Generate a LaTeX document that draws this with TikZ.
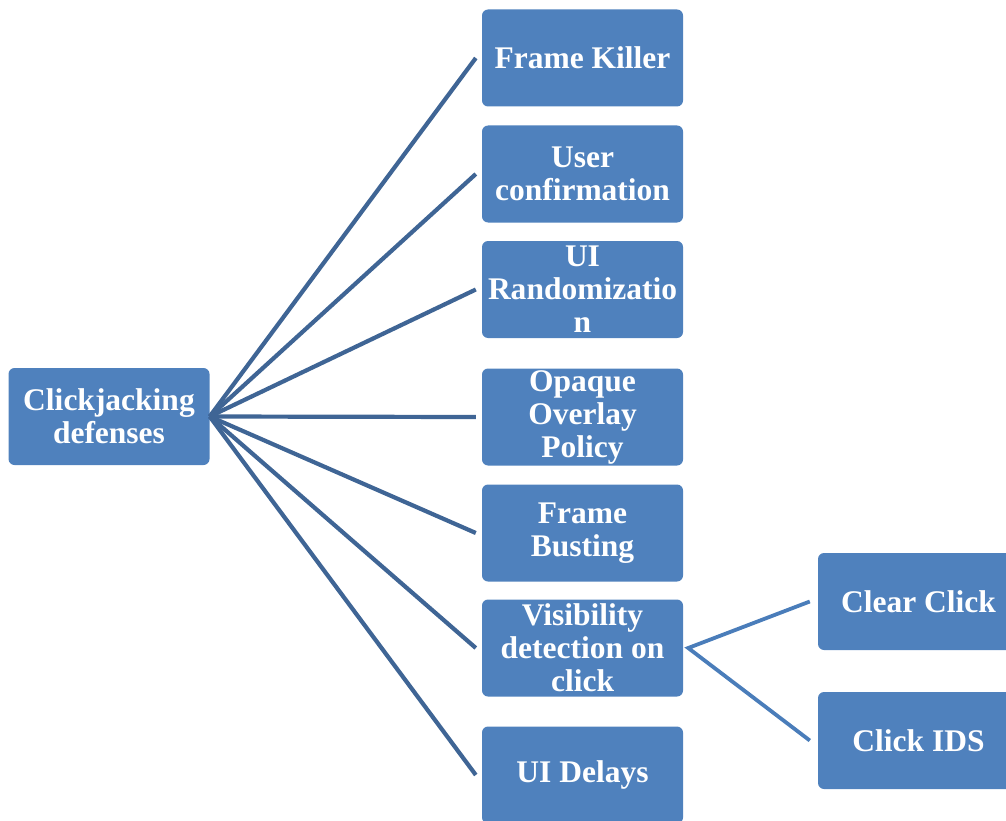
\documentclass[tikz,border=0pt]{standalone}
\usepackage{fontspec}
\setmainfont{Liberation Serif}
\definecolor{boxblue}{HTML}{4F81BD}
\definecolor{linedark}{HTML}{3F6595}
\definecolor{linelight}{HTML}{4A7DBA}
\begin{document}
\begin{tikzpicture}[x=1pt,y=-1pt,
  box/.style={fill=boxblue, rounded corners=6pt, minimum width=201pt, minimum height=97pt,
    inner sep=1pt, text=white, align=center, font=\fontsize{31.5}{33}\selectfont\bfseries},
  conn/.style={draw=linedark, line width=4.2pt},
  sub/.style={draw=linelight, line width=3.8pt}]
\useasboundingbox (0,0) rectangle (1006,821);
\node[box] (root) at (109,416.5) {Clickjacking\\defenses};
\node[box] (c1) at (582.5,58) {Frame Killer};
\node[box] (c2) at (582.5,174) {User\\confirmation};
\node[box] (c3) at (582.5,289.5) {UI\\Randomizatio\\n};
\node[box] (c4) at (582.5,417) {Opaque\\Overlay\\Policy};
\node[box] (c5) at (582.5,533) {Frame\\Busting};
\node[box] (c6) at (582.5,648) {Visibility\\detection on\\click};
\node[box] (c7) at (582.5,775) {UI Delays};
\node[box] (g1) at (918.5,601.5) {Clear Click};
\node[box] (g2) at (918.5,740.5) {Click IDS};
\foreach \c in {c1,c2,c3,c4,c5,c6,c7}
  \draw[conn] (root.east) -- ([xshift=-6pt]\c.west);
\draw[sub] ([xshift=-8pt]g1.west) -- ([xshift=5pt]c6.east) -- ([xshift=-8pt]g2.west);
\end{tikzpicture}
\end{document}
